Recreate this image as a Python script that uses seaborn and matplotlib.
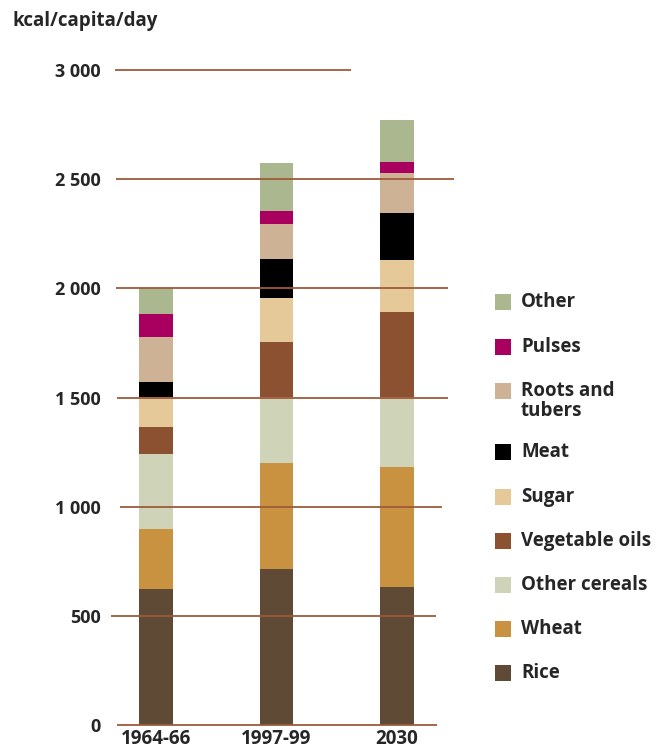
import matplotlib
matplotlib.use("Agg")
import matplotlib.pyplot as plt
from matplotlib.patches import Rectangle
import seaborn as sns
import numpy as np

# Daily food energy supply by commodity group (kcal/capita/day)
periods = ["1964-66", "1997-99", "2030"]
rice = [623, 715, 632]
wheat = [275, 485, 550]
other_cereals = [343, 302, 320]
vegetable_oils = [124, 252, 390]
sugar = [137, 202, 238]
meat = [68, 179, 215]
roots_tubers = [207, 160, 184]
pulses = [106, 60, 50]
other = [120, 219, 192]

groups = ["Rice", "Wheat", "Other cereals", "Vegetable oils", "Sugar",
          "Meat", "Roots and\ntubers", "Pulses", "Other"]
series = [rice, wheat, other_cereals, vegetable_oils, sugar,
          meat, roots_tubers, pulses, other]
colors = ["#5e4a35", "#c99240", "#cfd4b9", "#8b5131", "#e5c999",
          "#000000", "#cdb295", "#a90060", "#abb78e"]

y_ticks = [0, 500, 1000, 1500, 2000, 2500, 3000]
y_tick_labels = ["0", "500", "1 000", "1 500", "2 000", "2 500", "3 000"]
# horizontal reach of each reference line, in category units
line_reach = [(-0.32, 2.33), (-0.37, 2.32), (-0.30, 2.37), (-0.32, 2.42),
              (-0.33, 2.42), (-0.33, 2.47), (-0.34, 1.62)]

sns.set_style("white")
plt.rcParams["font.family"] = ["Open Sans", "DejaVu Sans"]
plt.rcParams["font.weight"] = "bold"

W, H = 656, 751
fig = plt.figure(figsize=(W / 100, H / 100), dpi=100)
ax_left, ax_right, ax_bottom, ax_top = 105, 460, 725, 70
ax = fig.add_axes([ax_left / W, 1 - ax_bottom / H,
                   (ax_right - ax_left) / W, (ax_bottom - ax_top) / H])

# stacked bars: draw running totals from the top layer down
cumulative = np.cumsum(np.array(series, dtype=float), axis=0)
for i in range(len(series) - 1, -1, -1):
    sns.barplot(x=periods, y=cumulative[i], color=colors[i], width=0.28,
                saturation=1, ax=ax, zorder=2, linewidth=0)

ax.set_xlim(-0.423, 2.523)
ax.set_ylim(0, 3000)

line_color = "#9e5a3a"
for val, (x0, x1) in zip(y_ticks, line_reach):
    ax.hlines(val, x0, x1, color=line_color, lw=1.3, zorder=3, clip_on=False)

for s in ax.spines.values():
    s.set_visible(False)
ax.grid(False)
ax.set_xlabel("")
ax.set_ylabel("")
ax.set_yticks(y_ticks)
ax.set_yticklabels(y_tick_labels, fontsize=13, fontweight="bold")
ax.tick_params(axis="y", length=0, pad=3)
ax.tick_params(axis="x", length=0, pad=3)
for lab in ax.get_xticklabels():
    lab.set_fontsize(13.5)
    lab.set_fontweight("bold")

fig.text(12 / W, 1 - 11 / H, "kcal/capita/day", fontsize=13.5,
         fontweight="bold", ha="left", va="top")

# legend, top entry first
legend_y = [302, 347, 391, 452, 497, 541, 585, 629, 673]
for name, col, yc in zip(groups[::-1], colors[::-1], legend_y):
    fig.patches.append(Rectangle((495 / W, 1 - (yc + 8) / H), 16 / W, 16 / H,
                                 transform=fig.transFigure, color=col,
                                 lw=0))
    fig.text(521 / W, 1 - (yc - 10) / H, name, fontsize=13.5,
             fontweight="bold", ha="left", va="top", linespacing=1.0)

fig.savefig("out.png", dpi=100)
